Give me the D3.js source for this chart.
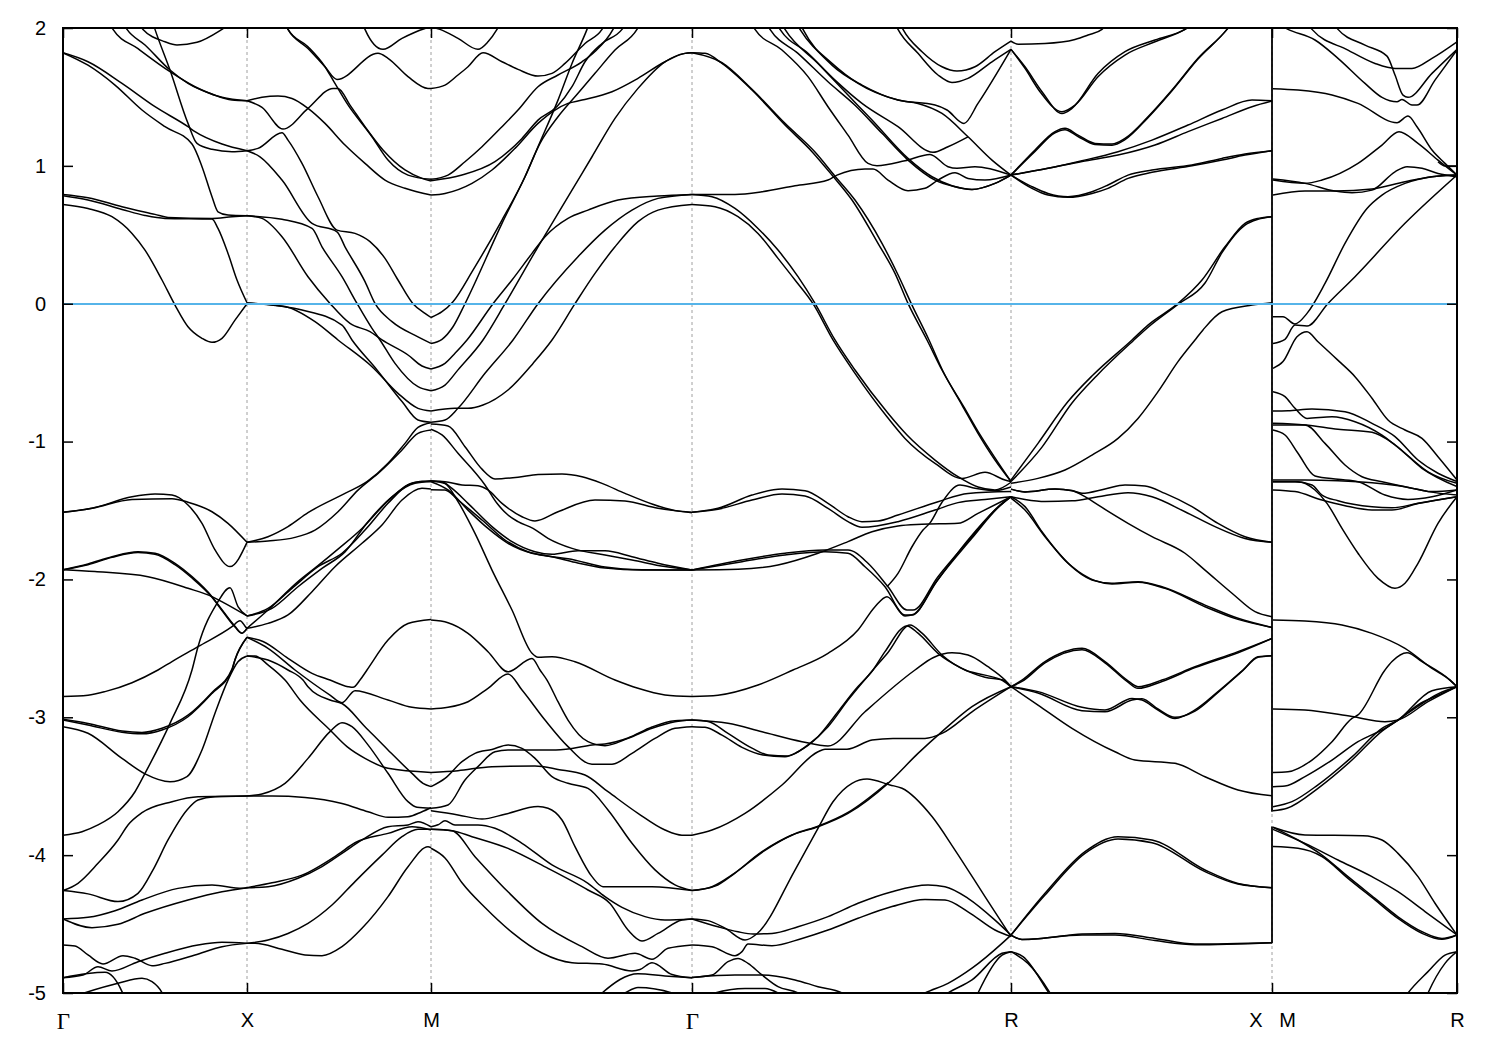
<!DOCTYPE html>
<html><head><meta charset="utf-8">
<script src="https://cdn.jsdelivr.net/npm/d3@7"></script>
<style>html,body{margin:0;padding:0;background:#fff}svg{display:block}</style>
</head><body><svg id="c" width="1500" height="1050"></svg>
<script>
// Tick positions along the k-path (k-point index) and labels
const kTicks = [0,184,368,629,948,1209,1394];
const kLabels = ["Γ","X","M","Γ","R","X\u00a0\u00a0\u00a0M","R"];
const energyTicks = [2,1,0,-1,-2,-3,-4,-5];
const pathBreak = 1209;
const breakSpans = [[2,-3.686],[-3.793,-4.64]];

const bandsGammaX = [
[[0,1.82],[25,1.755],[59,1.598],[92,1.429],[125,1.284],[132,1.248],[159,1.158],[184,1.11]],
[[0,1.82],[25,1.73],[52,1.586],[79,1.405],[102,1.284],[129,1.158],[139,.994],[149,.776],[155,.667],[165,.643],[184,.638]],
[[85,2.15],[92,1.99],[107,1.695],[125,1.308],[134,1.163],[149,1.12],[169,1.103],[184,1.11]],
[[40,2.15],[50,1.99],[75,1.85],[107,1.683],[132,1.574],[159,1.497],[184,1.472]],
[[52,2.15],[64,1.99],[82,1.877],[107,1.695],[125,1.598],[149,1.52],[169,1.477],[184,1.472]],
[[65,2.15],[80,1.99],[102,1.9],[114,1.877],[134,1.896],[159,1.99],[180,2.1]],
[[0,.793],[25,.769],[59,.704],[92,.648],[105,.626],[149,.619],[169,.631],[184,.638]],
[[0,.783],[25,.752],[59,.684],[82,.64],[102,.619],[149,.614],[155,.546],[165,.365],[174,.172],[184,.007]],
[[0,.72],[25,.691],[49,.631],[69,.51],[82,.389],[99,.172],[112,-.01],[125,-.167],[139,-.251],[149,-.28],[159,-.251],[172,-.119],[184,0]],
[[0,-1.513],[29,-1.484],[69,-1.40],[92,-1.38],[109,-1.388],[125,-1.46],[139,-1.593],[152,-1.786],[167,-1.907],[184,-1.731]],
[[0,-1.513],[29,-1.484],[69,-1.42],[109,-1.414],[125,-1.44],[149,-1.509],[165,-1.593],[184,-1.731]],
[[0,-1.93],[25,-1.888],[49,-1.835],[75,-1.799],[92,-1.81],[112,-1.883],[129,-1.98],[149,-2.125],[159,-2.22],[172,-2.34],[179,-2.39],[184,-2.355]],
[[0,-1.93],[25,-1.893],[49,-1.84],[75,-1.805],[92,-1.818],[112,-1.893],[129,-1.99],[149,-2.13],[159,-2.225],[172,-2.345],[179,-2.39],[184,-2.355]],
[[0,-1.93],[32,-1.943],[85,-1.98],[125,-2.064],[149,-2.125],[162,-2.174],[184,-2.265]],
[[0,-3.855],[19,-3.83],[35,-3.781],[55,-3.685],[72,-3.54],[82,-3.407],[107,-3.044],[129,-2.657],[135,-2.488],[154,-2.174],[167,-2.06],[175,-2.197],[184,-2.265]],
[[0,-2.85],[25,-2.84],[42,-2.814],[69,-2.749],[95,-2.657],[109,-2.596],[135,-2.488],[169,-2.343],[177,-2.299],[183,-2.348],[184,-2.355]],
[[0,-3.02],[25,-3.056],[59,-3.109],[79,-3.12],[99,-3.092],[125,-2.996],[149,-2.827],[169,-2.657],[172,-2.585],[184,-2.42]],
[[0,-3.015],[25,-3.045],[59,-3.1],[79,-3.11],[99,-3.08],[125,-2.985],[149,-2.82],[169,-2.65],[172,-2.58],[184,-2.42]],
[[0,-3.068],[25,-3.116],[59,-3.298],[82,-3.41],[107,-3.467],[124,-3.43],[139,-3.237],[152,-2.97],[165,-2.73],[175,-2.597],[184,-2.555]],
[[0,-4.257],[15,-4.204],[35,-4.059],[55,-3.89],[65,-3.781],[79,-3.692],[109,-3.612],[135,-3.576],[184,-3.571]],
[[0,-4.257],[25,-4.281],[55,-4.337],[75,-4.277],[90,-4.107],[105,-3.89],[124,-3.672],[135,-3.6],[152,-3.576],[184,-3.571]],
[[0,-4.463],[25,-4.451],[52,-4.403],[79,-4.325],[115,-4.241],[149,-4.217],[179,-4.241],[184,-4.236]],
[[0,-4.463],[29,-4.526],[55,-4.502],[82,-4.422],[125,-4.325],[159,-4.265],[184,-4.236]],
[[0,-4.651],[12,-4.659],[25,-4.724],[40,-4.789],[60,-4.729],[72,-4.748],[89,-4.802],[102,-4.785],[132,-4.724],[159,-4.664],[184,-4.64]],
[[0,-4.889],[20,-4.87],[35,-4.809],[49,-4.841],[75,-4.773],[102,-4.712],[135,-4.652],[159,-4.632],[184,-4.64]],
[[0,-4.889],[42,-4.85],[59,-4.99],[65,-5.1]],
[[0,-5.05],[22,-4.998],[55,-4.93],[79,-4.893],[89,-4.918],[99,-4.998],[105,-5.1]]
];

const bandsXM = [
[[184,1.472],[199,1.497],[215,1.506],[229,1.489],[245,1.417],[262,1.308],[282,1.151],[302,1.018],[322,.897],[342,.837],[368,.788]],
[[184,1.472],[199,1.424],[220,1.267],[245,1.417],[270,1.562],[275,1.562],[287,1.441],[302,1.284],[320,1.115],[342,.97],[359,.909],[368,.89]],
[[215,2.15],[225,1.99],[245,1.852],[262,1.719],[274,1.627],[315,1.816],[325,1.78],[345,1.647],[365,1.562],[368,1.562]],
[[295,2.15],[302,1.99],[320,1.845],[339,1.925],[362,1.997],[368,2.01]],
[[218,2.15],[225,1.99],[245,1.864],[262,1.719],[270,1.622],[284,1.453],[309,1.211],[325,1.042],[345,.933],[368,.902]],
[[184,1.11],[195,1.127],[219,1.24],[225,1.187],[239,1.018],[255,.776],[274,.534],[292,.51],[307,.45],[322,.329],[335,.172],[350,0],[362,-.07],[368,-.1]],
[[184,1.11],[197,1.066],[219,.897],[249,.583],[274,.522],[282,.413],[302,.16],[312,.002],[329,-.13],[355,-.24],[368,-.288]],
[[184,.638],[219,.612],[249,.546],[259,.413],[279,.196],[294,.002],[309,-.179],[317,-.263],[332,-.433],[355,-.602],[368,-.631]],
[[184,.638],[199,.619],[219,.486],[245,.196],[267,.002],[287,-.143],[307,-.203],[319,-.263],[345,-.372],[359,-.452],[368,-.473]],
[[184,.005],[222,-.02],[252,-.13],[275,-.263],[309,-.457],[335,-.65],[355,-.759],[368,-.778]],
[[184,.005],[239,-.046],[279,-.155],[289,-.263],[314,-.48],[339,-.71],[355,-.843],[368,-.86]],
[[184,-1.731],[205,-1.69],[225,-1.617],[245,-1.516],[282,-1.376],[304,-1.291],[325,-1.158],[342,-1.013],[355,-.897],[368,-.863]],
[[184,-1.731],[205,-1.721],[232,-1.695],[252,-1.642],[275,-1.509],[295,-1.352],[317,-1.219],[339,-1.061],[355,-.94],[368,-.916]],
[[184,-2.265],[205,-2.21],[229,-2.065],[255,-1.908],[279,-1.81],[302,-1.642],[325,-1.448],[345,-1.315],[359,-1.29],[368,-1.29]],
[[184,-2.265],[209,-2.21],[235,-2.053],[259,-1.92],[282,-1.8],[305,-1.581],[329,-1.4],[352,-1.303],[368,-1.29]],
[[184,-2.355],[205,-2.222],[235,-2.016],[255,-1.9],[275,-1.78],[299,-1.63],[325,-1.43],[349,-1.3],[368,-1.285]],
[[184,-2.355],[205,-2.319],[225,-2.258],[249,-2.089],[272,-1.908],[299,-1.738],[319,-1.605],[339,-1.424],[359,-1.339],[368,-1.344]],
[[184,-2.42],[200,-2.45],[225,-2.572],[249,-2.681],[267,-2.73],[285,-2.778],[290,-2.783],[297,-2.73],[304,-2.657],[325,-2.44],[345,-2.32],[368,-2.29]],
[[184,-2.42],[205,-2.5],[232,-2.657],[267,-2.839],[279,-2.894],[292,-2.807],[325,-2.875],[349,-2.928],[368,-2.94]],
[[184,-2.555],[192,-2.555],[205,-2.62],[222,-2.73],[237,-2.875],[267,-3.092],[284,-3.213],[302,-3.298],[325,-3.37],[368,-3.4]],
[[184,-2.555],[205,-2.585],[225,-2.657],[240,-2.73],[245,-2.778],[267,-2.875],[279,-2.9],[302,-3.068],[325,-3.237],[349,-3.407],[360,-3.479],[368,-3.503]],
[[184,-3.571],[199,-3.556],[222,-3.479],[245,-3.298],[267,-3.104],[279,-3.039],[289,-3.068],[305,-3.2],[325,-3.406],[345,-3.612],[354,-3.653],[368,-3.66]],
[[184,-3.571],[209,-3.571],[242,-3.581],[279,-3.625],[305,-3.685],[325,-3.726],[345,-3.721],[359,-3.685],[368,-3.656]],
[[184,-4.236],[205,-4.229],[235,-4.168],[259,-4.083],[279,-3.987],[299,-3.89],[325,-3.794],[345,-3.781],[355,-3.757],[368,-3.794]],
[[184,-4.236],[209,-4.2],[239,-4.145],[275,-3.995],[292,-3.91],[325,-3.842],[349,-3.794],[368,-3.818]],
[[184,-4.64],[192,-4.64],[219,-4.683],[242,-4.724],[259,-4.729],[279,-4.664],[299,-4.531],[325,-4.301],[345,-4.084],[365,-3.94],[368,-3.946]],
[[184,-4.64],[205,-4.616],[225,-4.568],[245,-4.495],[269,-4.362],[292,-4.192],[319,-4.0],[339,-3.866],[355,-3.813],[368,-3.813]]
];

const bandsMGamma = [
[[368,2.01],[377,1.99],[395,1.925],[415,1.845],[425,1.9],[434,1.99],[445,2.15]],
[[368,1.562],[382,1.586],[395,1.659],[405,1.719],[420,1.82],[439,1.755],[455,1.70],[475,1.651],[489,1.671],[502,1.743],[522,1.888],[539,1.99],[550,2.15]],
[[368,.902],[385,.933],[402,1.03],[419,1.139],[439,1.284],[455,1.405],[475,1.574],[495,1.659],[519,1.755],[532,1.83],[550,1.99],[560,2.15]],
[[368,.892],[399,.933],[432,1.03],[459,1.199],[475,1.332],[494,1.43],[509,1.574],[522,1.755],[539,1.888],[559,1.99],[572,2.15]],
[[368,.788],[382,.8],[409,.873],[429,.97],[452,1.127],[475,1.308],[492,1.405],[505,1.453],[519,1.477],[549,1.538],[575,1.635],[602,1.755],[622,1.816],[629,1.82]],
[[368,-.1],[379,-.058],[390,.015],[410,.244],[439,.607],[462,.921],[475,1.139],[495,1.477],[509,1.743],[524,1.99],[532,2.15]],
[[368,-.288],[379,-.258],[390,-.167],[402,0],[439,.583],[462,.921],[477,1.163],[495,1.356],[515,1.526],[532,1.671],[552,1.84],[574,1.99],[585,2.15]],
[[368,-.473],[382,-.433],[392,-.36],[404,-.263],[430,0],[449,.172],[469,.365],[482,.486],[505,.619],[525,.679],[555,.752],[595,.781],[629,.793]],
[[368,-.631],[382,-.59],[395,-.48],[420,-.263],[442,0],[475,.413],[509,.824],[529,1.066],[552,1.344],[575,1.562],[602,1.755],[622,1.816],[629,1.82]],
[[368,-.86],[382,-.844],[395,-.759],[422,-.505],[450,-.263],[475,0],[515,.341],[542,.534],[569,.679],[595,.764],[629,.793]],
[[368,-.778],[392,-.759],[405,-.759],[420,-.735],[445,-.626],[470,-.433],[489,-.263],[512,0],[532,.22],[552,.413],[575,.595],[595,.679],[629,.72]],
[[368,-.911],[379,-.952],[395,-1.085],[422,-1.315],[434,-1.448],[445,-1.533],[455,-1.581],[470,-1.63],[485,-1.702],[509,-1.775],[542,-1.823],[569,-1.859],[602,-1.907],[629,-1.932]],
[[368,-.873],[385,-.887],[402,-1.037],[419,-1.2],[432,-1.271],[455,-1.259],[475,-1.238],[499,-1.235],[519,-1.255],[539,-1.303],[562,-1.376],[589,-1.453],[612,-1.501],[629,-1.516]],
[[368,-1.286],[382,-1.291],[399,-1.315],[415,-1.32],[425,-1.351],[439,-1.448],[459,-1.545],[472,-1.576],[495,-1.509],[532,-1.424],[562,-1.431],[595,-1.484],[629,-1.513]],
[[368,-1.286],[379,-1.291],[389,-1.34],[405,-1.448],[429,-1.617],[449,-1.726],[472,-1.799],[489,-1.818],[515,-1.792],[542,-1.792],[569,-1.835],[595,-1.883],[629,-1.932]],
[[368,-1.291],[385,-1.351],[405,-1.497],[425,-1.63],[445,-1.738],[469,-1.81],[489,-1.835],[512,-1.876],[542,-1.917],[579,-1.932],[629,-1.932]],
[[368,-1.349],[382,-1.351],[395,-1.424],[419,-1.569],[442,-1.714],[465,-1.799],[485,-1.83],[505,-1.85],[542,-1.91],[579,-1.93],[629,-1.932]],
[[368,-1.286],[382,-1.305],[395,-1.436],[412,-1.666],[429,-1.932],[449,-2.222],[469,-2.536],[475,-2.565],[489,-2.56],[512,-2.597],[552,-2.73],[575,-2.79],[602,-2.838],[629,-2.85]],
[[368,-2.295],[385,-2.314],[405,-2.391],[425,-2.524],[445,-2.67],[469,-2.573],[477,-2.657],[484,-2.73],[495,-2.887],[505,-3.02],[525,-3.177],[542,-3.206],[565,-3.153],[589,-3.08],[612,-3.032],[629,-3.02]],
[[368,-2.94],[385,-2.928],[405,-2.887],[425,-2.79],[445,-2.686],[459,-2.802],[482,-3.02],[505,-3.213],[529,-3.34],[549,-3.34],[569,-3.262],[592,-3.153],[612,-3.08],[629,-3.068]],
[[368,-3.4],[395,-3.387],[429,-3.358],[472,-3.354],[495,-3.378],[522,-3.419],[545,-3.54],[575,-3.697],[602,-3.818],[619,-3.855],[629,-3.855]],
[[368,-3.503],[382,-3.443],[399,-3.322],[412,-3.262],[429,-3.233],[445,-3.201],[459,-3.225],[472,-3.298],[489,-3.43],[505,-3.479],[525,-3.516],[545,-3.672],[569,-3.914],[592,-4.107],[612,-4.216],[629,-4.257]],
[[368,-3.66],[385,-3.636],[402,-3.455],[415,-3.358],[432,-3.25],[445,-3.238],[462,-3.238],[489,-3.238],[509,-3.226],[529,-3.201],[542,-3.194],[565,-3.15],[589,-3.07],[612,-3.025],[629,-3.02]],
[[368,-3.678],[395,-3.708],[419,-3.738],[442,-3.703],[475,-3.648],[485,-3.66],[499,-3.745],[512,-3.938],[529,-4.156],[540,-4.229],[589,-4.229],[629,-4.257]],
[[368,-3.794],[375,-3.78],[382,-3.751],[392,-3.781],[415,-3.781],[432,-3.805],[459,-3.914],[489,-4.071],[525,-4.204],[542,-4.301],[559,-4.379],[582,-4.446],[602,-4.47],[629,-4.463]],
[[368,-3.813],[389,-3.823],[409,-3.866],[445,-3.951],[485,-4.096],[525,-4.253],[547,-4.35],[565,-4.543],[579,-4.623],[595,-4.568],[619,-4.47],[629,-4.463]],
[[368,-3.813],[389,-3.823],[412,-4.011],[445,-4.266],[479,-4.495],[519,-4.664],[545,-4.748],[572,-4.712],[589,-4.755],[605,-4.676],[629,-4.651]],
[[368,-3.95],[382,-4.02],[399,-4.2],[422,-4.38],[449,-4.56],[479,-4.71],[509,-4.78],[539,-4.79],[569,-4.84],[577,-4.83],[589,-4.78],[609,-4.866],[629,-4.89]],
[[525,-5.1],[539,-5.0],[575,-4.86],[602,-4.876],[629,-4.89]],
[[550,-5.05],[562,-5.0],[575,-4.96],[609,-5.0],[620,-5.05]]
];

const bandsGammaR = [
[[629,1.82],[642,1.816],[659,1.743],[689,1.55],[722,1.296],[749,1.103],[769,.933],[789,.752],[815,.438],[832,.22],[845,.002],[864,-.263],[879,-.481],[899,-.735],[915,-.94],[932,-1.134],[948,-1.29]],
[[629,1.82],[659,1.748],[689,1.555],[722,1.308],[752,1.1],[772,.925],[792,.752],[819,.438],[835,.21],[849,-.01],[866,-.263],[880,-.49],[901,-.75],[917,-.95],[934,-1.14],[948,-1.29]],
[[629,.793],[649,.776],[672,.691],[695,.546],[715,.389],[735,.196],[752,.002],[772,-.263],[792,-.481],[825,-.795],[844,-.953],[872,-1.134],[895,-1.255],[915,-1.33],[932,-1.351],[948,-1.295]],
[[629,.72],[652,.704],[675,.631],[695,.51],[715,.329],[732,.172],[750,0],[770,-.263],[792,-.505],[824,-.82],[842,-.977],[872,-1.158],[899,-1.267],[922,-1.223],[942,-1.279],[948,-1.29]],
[[629,.793],[672,.793],[699,.812],[732,.856],[765,.897],[774,.933],[802,.977],[810,.977],[825,.897],[845,.82],[862,.837],[875,.897],[892,.95],[905,.909],[922,.897],[948,.933]],
[[680,2.15],[692,1.99],[719,1.84],[745,1.647],[765,1.429],[785,1.223],[805,1.018],[814,1.001],[842,1.037],[867,1.083],[885,.994],[894,.982],[912,.994],[948,.933]],
[[695,2.15],[707,1.99],[735,1.816],[765,1.61],[792,1.44],[819,1.236],[845,1.042],[872,.897],[892,.849],[909,.829],[932,.873],[948,.933]],
[[705,2.15],[717,1.99],[745,1.816],[772,1.622],[799,1.453],[835,1.284],[870,1.098],[885,1.139],[905,1.211]],
[[730,2.15],[740,1.99],[769,1.731],[799,1.586],[835,1.477],[855,1.453],[879,1.38],[905,1.211],[929,1.042],[948,.933]],
[[710,2.15],[722,1.99],[755,1.743],[785,1.514],[809,1.332],[845,1.054],[869,.921],[889,.856],[909,.829],[932,.873],[948,.933]],
[[725,2.15],[737,1.99],[769,1.743],[795,1.598],[835,1.477],[872,1.441],[884,1.405],[901,1.308],[915,1.453],[948,1.845]],
[[825,2.15],[835,1.99],[855,1.816],[875,1.659],[889,1.605],[905,1.635],[929,1.755],[948,1.845]],
[[830,2.15],[840,1.99],[859,1.828],[879,1.719],[894,1.688],[912,1.719],[932,1.828],[948,1.905]],
[[629,-1.513],[655,-1.484],[689,-1.388],[719,-1.344],[742,-1.356],[765,-1.448],[785,-1.545],[799,-1.581],[815,-1.576],[835,-1.533],[875,-1.436],[905,-1.376],[948,-1.363]],
[[629,-1.513],[655,-1.491],[689,-1.424],[719,-1.38],[742,-1.395],[765,-1.485],[785,-1.581],[799,-1.622],[835,-1.581],[872,-1.497],[895,-1.443],[922,-1.42],[948,-1.4]],
[[629,-1.932],[679,-1.859],[722,-1.81],[762,-1.787],[785,-1.787],[805,-1.883],[825,-2.053],[844,-2.222],[850,-2.222],[875,-1.98],[909,-1.69],[935,-1.473],[948,-1.4]],
[[629,-1.932],[679,-1.871],[722,-1.823],[762,-1.799],[785,-1.81],[802,-1.908],[822,-2.053],[842,-2.258],[849,-2.258],[872,-2.03],[905,-1.714],[932,-1.497],[948,-1.4]],
[[629,-1.932],[675,-1.927],[715,-1.895],[755,-1.81],[785,-1.726],[809,-1.654],[835,-1.612],[859,-1.6],[895,-1.593],[915,-1.521],[948,-1.4]],
[[824,-2.053],[835,-1.956],[849,-1.763],[860,-1.642],[867,-1.59],[879,-1.44],[897,-1.315],[912,-1.339],[932,-1.356],[948,-1.33]],
[[629,-2.85],[655,-2.84],[695,-2.766],[730,-2.657],[765,-2.536],[795,-2.367],[812,-2.198],[824,-2.125],[842,-2.265],[850,-2.255],[875,-2.0],[909,-1.7],[935,-1.48],[948,-1.4]],
[[629,-3.855],[649,-3.818],[682,-3.697],[719,-3.491],[755,-3.25],[762,-3.231],[784,-3.231],[809,-3.165],[830,-3.153],[862,-3.153],[879,-3.117],[909,-2.96],[948,-2.778]],
[[629,-3.02],[665,-3.044],[699,-3.105],[739,-3.177],[765,-3.208],[802,-2.96],[852,-2.657],[870,-2.568],[889,-2.532],[905,-2.548],[925,-2.633],[942,-2.73],[948,-2.778]],
[[629,-3.068],[642,-3.073],[659,-3.129],[679,-3.218],[700,-3.273],[722,-3.286],[735,-3.25],[755,-3.141],[775,-2.96],[792,-2.802],[810,-2.657],[822,-2.524],[844,-2.337],[855,-2.39],[875,-2.536],[899,-2.645],[922,-2.71],[940,-2.73],[948,-2.778]],
[[629,-3.02],[645,-3.03],[665,-3.117],[689,-3.224],[705,-3.273],[725,-3.28],[745,-3.2],[765,-3.068],[785,-2.875],[810,-2.657],[825,-2.53],[847,-2.33],[859,-2.39],[879,-2.548],[902,-2.657],[922,-2.694],[940,-2.735],[948,-2.778]],
[[629,-4.257],[649,-4.229],[669,-4.144],[699,-3.975],[729,-3.854],[755,-3.794],[785,-3.697],[825,-3.479],[855,-3.262],[879,-3.104],[909,-2.923],[948,-2.778]],
[[629,-4.257],[652,-4.225],[672,-4.13],[702,-3.965],[732,-3.845],[755,-3.79],[785,-3.69],[825,-3.473]],
[[629,-4.463],[645,-4.475],[662,-4.53],[682,-4.616],[694,-4.57],[732,-4.108],[755,-3.805],[770,-3.613],[789,-3.479],[804,-3.448],[827,-3.491],[839,-3.515],[869,-3.72],[892,-3.963],[922,-4.301],[948,-4.591]],
[[629,-4.463],[655,-4.52],[675,-4.556],[690,-4.572],[709,-4.568],[735,-4.519],[765,-4.446],[795,-4.349],[829,-4.265],[865,-4.217],[882,-4.229],[905,-4.313],[932,-4.471],[948,-4.58]],
[[629,-4.651],[649,-4.664],[672,-4.729],[679,-4.7],[685,-4.645],[709,-4.657],[739,-4.604],[765,-4.543],[795,-4.458],[829,-4.373],[862,-4.321],[882,-4.326],[905,-4.411],[932,-4.543],[948,-4.591]],
[[629,-4.887],[649,-4.87],[665,-4.773],[675,-4.749],[685,-4.785],[699,-4.869],[715,-4.954],[735,-5.0],[745,-5.05]],
[[629,-4.887],[672,-4.87],[699,-4.87],[732,-4.905],[755,-4.954],[779,-5.0],[790,-5.05]],
[[640,-5.05],[652,-5],[682,-4.967],[702,-4.967],[715,-5],[725,-5.05]],
[[850,-5.05],[862,-5],[885,-4.93],[909,-4.82],[939,-4.64],[948,-4.58]],
[[875,-5.05],[885,-5],[909,-4.905],[939,-4.712],[948,-4.7]],
[[910,-5.08],[915,-5],[939,-4.725],[948,-4.7]]
];

const bandsRX = [
[[948,1.905],[955,1.883],[982,1.888],[1012,1.917],[1025,1.949],[1039,1.99],[1055,2.15]],
[[948,1.845],[962,1.719],[979,1.538],[999,1.38],[1009,1.417],[1035,1.67],[1062,1.828],[1092,1.913],[1122,1.99],[1150,2.15]],
[[948,1.845],[962,1.707],[977,1.538],[999,1.393],[1012,1.441],[1035,1.647],[1062,1.804],[1092,1.9],[1122,1.99],[1150,2.15]],
[[948,.933],[972,1.115],[992,1.248],[1002,1.272],[1015,1.223],[1032,1.163],[1049,1.158],[1062,1.199],[1085,1.356],[1109,1.55],[1135,1.78],[1164,1.99],[1180,2.15]],
[[948,.933],[972,1.105],[992,1.24],[1002,1.262],[1015,1.213],[1032,1.155],[1049,1.15],[1062,1.19],[1085,1.35],[1109,1.545],[1135,1.775],[1164,1.99],[1180,2.15]],
[[948,.933],[985,.982],[1019,1.037],[1055,1.103],[1089,1.187],[1125,1.296],[1159,1.405],[1189,1.477],[1209,1.472]],
[[948,.933],[985,.982],[1019,1.032],[1055,1.078],[1092,1.151],[1125,1.248],[1159,1.344],[1189,1.429],[1209,1.47]],
[[948,.933],[969,.849],[985,.8],[1005,.776],[1029,.812],[1045,.861],[1065,.933],[1089,.97],[1129,1.006],[1159,1.054],[1182,1.086],[1209,1.11]],
[[948,.933],[969,.837],[985,.788],[1005,.772],[1029,.8],[1045,.837],[1065,.909],[1089,.953],[1129,1.0],[1159,1.042],[1182,1.078],[1209,1.11]],
[[948,-1.279],[975,-1.013],[1005,-.71],[1030,-.517],[1069,-.263],[1085,-.155],[1115,.002],[1139,.172],[1162,.413],[1182,.583],[1195,.619],[1209,.631]],
[[948,-1.29],[979,-1.04],[1009,-.72],[1034,-.52],[1070,-.27],[1086,-.165],[1115,-.005],[1142,.15],[1159,.37],[1182,.57],[1195,.612],[1209,.631]],
[[948,-1.303],[975,-1.267],[1002,-1.206],[1029,-1.098],[1055,-.977],[1075,-.832],[1095,-.638],[1115,-.42],[1132,-.263],[1140,-.19],[1159,-.058],[1189,-.01],[1209,.007]],
[[948,-1.345],[962,-1.365],[992,-1.344],[1009,-1.355],[1019,-1.375],[1042,-1.344],[1062,-1.315],[1082,-1.322],[1102,-1.376],[1129,-1.472],[1155,-1.593],[1182,-1.69],[1209,-1.731]],
[[948,-1.4],[962,-1.42],[982,-1.435],[1009,-1.43],[1035,-1.4],[1065,-1.371],[1089,-1.4],[1122,-1.509],[1152,-1.617],[1182,-1.703],[1209,-1.731]],
[[948,-1.345],[962,-1.365],[992,-1.344],[1009,-1.356],[1022,-1.4],[1035,-1.46],[1065,-1.593],[1089,-1.69],[1122,-1.81],[1142,-1.932],[1169,-2.1],[1192,-2.234],[1209,-2.27]],
[[948,-1.4],[962,-1.472],[979,-1.654],[1005,-1.883],[1029,-2.004],[1049,-2.028],[1075,-2.016],[1099,-2.053],[1142,-2.186],[1175,-2.282],[1209,-2.348]],
[[948,-1.41],[962,-1.497],[982,-1.69],[1009,-1.907],[1032,-2.009],[1049,-2.033],[1075,-2.02],[1102,-2.065],[1142,-2.198],[1175,-2.29],[1209,-2.348]],
[[948,-2.778],[959,-2.73],[982,-2.596],[1019,-2.5],[1042,-2.596],[1064,-2.73],[1075,-2.778],[1099,-2.73],[1132,-2.633],[1175,-2.524],[1209,-2.428]],
[[948,-2.778],[959,-2.74],[982,-2.605],[1019,-2.51],[1042,-2.605],[1064,-2.74],[1075,-2.79],[1099,-2.74],[1132,-2.64],[1175,-2.532],[1209,-2.428]],
[[948,-2.778],[975,-2.814],[1019,-2.928],[1042,-2.947],[1069,-2.863],[1079,-2.875],[1095,-2.947],[1112,-3.008],[1132,-2.947],[1155,-2.814],[1180,-2.657],[1195,-2.56],[1209,-2.553]],
[[948,-2.778],[975,-2.824],[1019,-2.952],[1042,-2.96],[1069,-2.875],[1079,-2.865],[1095,-2.94],[1112,-3.0],[1132,-2.955],[1155,-2.82],[1180,-2.66],[1195,-2.565],[1209,-2.553]],
[[948,-2.778],[975,-2.911],[1009,-3.08],[1052,-3.25],[1072,-3.31],[1112,-3.334],[1142,-3.431],[1175,-3.527],[1209,-3.57]],
[[948,-4.58],[982,-4.277],[1022,-3.975],[1055,-3.866],[1089,-3.89],[1142,-4.108],[1175,-4.205],[1209,-4.236]],
[[948,-4.58],[982,-4.29],[1022,-3.987],[1055,-3.883],[1089,-3.91],[1142,-4.12],[1175,-4.21],[1209,-4.236]],
[[948,-4.58],[959,-4.612],[979,-4.604],[1019,-4.572],[1052,-4.568],[1092,-4.604],[1132,-4.645],[1209,-4.635]],
[[948,-4.58],[959,-4.612],[1019,-4.58],[1052,-4.579],[1092,-4.62],[1132,-4.65],[1209,-4.635]],
[[948,-4.7],[960,-4.736],[985,-4.99],[995,-5.1]],
[[948,-4.7],[965,-4.785],[987,-5],[995,-5.1]]
];

const bandsMR = [
[[1210,2.05],[1225,1.99],[1252,1.913],[1275,1.78],[1302,1.598],[1319,1.497],[1334,1.465],[1339,1.482],[1349,1.441],[1354,1.441],[1372,1.622],[1394,1.84]],
[[1235,2.15],[1249,1.99],[1285,1.84],[1312,1.743],[1332,1.707],[1349,1.707],[1369,1.78],[1394,1.9]],
[[1262,2.15],[1275,1.99],[1302,1.876],[1324,1.796],[1332,1.659],[1340,1.513],[1345,1.497],[1369,1.671],[1394,1.845]],
[[1210,1.56],[1235,1.55],[1269,1.514],[1295,1.453],[1334,1.313],[1345,1.361],[1354,1.284],[1369,1.115],[1382,1.018],[1394,.933]],
[[1210,.897],[1242,.873],[1259,.897],[1295,1.018],[1319,1.151],[1336,1.248],[1355,1.163],[1375,1.042],[1394,.933]],
[[1210,.904],[1242,.873],[1272,.817],[1289,.805],[1309,.824],[1332,.957],[1344,.994],[1359,.982],[1375,.945],[1394,.921]],
[[1210,.788],[1242,.817],[1272,.817],[1309,.832],[1342,.885],[1369,.921],[1394,.933]],
[[1210,-.288],[1222,-.258],[1232,-.155],[1244,-.162],[1265,.002],[1292,.196],[1342,.583],[1394,.933]],
[[1210,-.094],[1220,-.094],[1232,-.147],[1244,-.07],[1262,.147],[1282,.438],[1304,.691],[1319,.788],[1342,.873],[1369,.921],[1394,.933]],
[[1375,1.03],[1382,.999],[1394,.999]],
[[1210,-.469],[1220,-.42],[1234,-.239],[1244,-.203],[1255,-.276],[1274,-.404],[1292,-.529],[1309,-.686],[1325,-.844],[1342,-.916],[1359,-.977],[1375,-1.11],[1394,-1.279]],
[[1210,-.638],[1222,-.674],[1232,-.759],[1244,-.832],[1269,-.82],[1292,-.856],[1319,-.953],[1342,-1.085],[1365,-1.219],[1394,-1.303]],
[[1210,-.778],[1225,-.776],[1249,-.764],[1282,-.783],[1309,-.868],[1332,-.964],[1355,-1.134],[1375,-1.23],[1394,-1.29]],
[[1210,-.868],[1242,-.88],[1275,-.911],[1309,-.933],[1332,-1.023],[1359,-1.194],[1394,-1.327]],
[[1210,-.88],[1242,-.88],[1262,-1.013],[1282,-1.17],[1299,-1.255],[1319,-1.291],[1342,-1.327],[1369,-1.363],[1394,-1.351]],
[[1210,-.916],[1222,-.952],[1235,-1.085],[1252,-1.25],[1275,-1.274],[1295,-1.291],[1322,-1.388],[1345,-1.42],[1369,-1.4],[1394,-1.351]],
[[1210,-1.279],[1242,-1.279],[1275,-1.284],[1309,-1.298],[1342,-1.327],[1365,-1.363],[1394,-1.388]],
[[1210,-1.291],[1232,-1.291],[1249,-1.315],[1259,-1.388],[1275,-1.429],[1309,-1.473],[1329,-1.48],[1355,-1.448],[1394,-1.4]],
[[1210,-1.351],[1232,-1.363],[1259,-1.424],[1282,-1.465],[1309,-1.496],[1329,-1.496],[1355,-1.45],[1394,-1.4]],
[[1210,-1.291],[1235,-1.291],[1252,-1.351],[1264,-1.448],[1279,-1.63],[1295,-1.81],[1315,-1.992],[1332,-2.064],[1342,-2.028],[1355,-1.883],[1375,-1.593],[1394,-1.4]],
[[1210,-2.295],[1242,-2.302],[1279,-2.331],[1309,-2.391],[1342,-2.5],[1369,-2.645],[1387,-2.73],[1394,-2.778]],
[[1210,-2.94],[1242,-2.947],[1289,-2.995],[1322,-3.032],[1335,-3.02],[1365,-2.887],[1394,-2.778]],
[[1210,-3.4],[1225,-3.395],[1249,-3.31],[1269,-3.177],[1289,-3.008],[1295,-2.983],[1322,-2.657],[1329,-2.596],[1344,-2.532],[1359,-2.597],[1387,-2.73],[1394,-2.778]],
[[1210,-3.503],[1222,-3.499],[1242,-3.43],[1269,-3.31],[1295,-3.177],[1322,-3.08],[1335,-3.02],[1369,-2.807],[1394,-2.778]],
[[1210,-3.649],[1229,-3.612],[1255,-3.49],[1289,-3.287],[1319,-3.08],[1335,-3.02],[1355,-2.91],[1375,-2.84],[1394,-2.778]],
[[1210,-3.678],[1224,-3.66],[1255,-3.515],[1289,-3.31],[1319,-3.1],[1335,-3.02],[1359,-2.9],[1375,-2.83],[1394,-2.778]],
[[1210,-3.798],[1242,-3.854],[1300,-3.859],[1319,-3.89],[1335,-3.987],[1355,-4.156],[1372,-4.349],[1394,-4.579]],
[[1210,-3.813],[1242,-3.915],[1275,-4.035],[1309,-4.156],[1335,-4.265],[1362,-4.409],[1394,-4.579]],
[[1210,-3.938],[1235,-3.95],[1259,-4.01],[1285,-4.168],[1312,-4.325],[1335,-4.459],[1359,-4.567],[1379,-4.611],[1394,-4.579]],
[[1210,-3.798],[1235,-3.89],[1259,-3.999],[1285,-4.156],[1312,-4.313],[1335,-4.447],[1359,-4.555],[1379,-4.604],[1394,-4.579]],
[[1340,-5.05],[1345,-5],[1365,-4.845],[1382,-4.725],[1394,-4.7]],
[[1362,-5.05],[1365,-5],[1382,-4.785],[1394,-4.7]]
];

const allBands = [bandsGammaX, bandsXM, bandsMGamma, bandsGammaR, bandsRX, bandsMR];

const plot = {l:63, r:1457, t:28, b:993};
const x = d3.scaleLinear().domain([0,1394]).range([plot.l,plot.r]);
const y = d3.scaleLinear().domain([-5,2]).range([plot.b,plot.t]);
const svg = d3.select("#c");
const FONT = "'Liberation Sans', Arial, sans-serif";

svg.append("defs").append("clipPath").attr("id","plotclip").append("rect")
  .attr("x",plot.l).attr("y",plot.t).attr("width",plot.r-plot.l).attr("height",plot.b-plot.t);

// dashed vertical guides at high-symmetry points
svg.append("g").selectAll("line").data(kTicks.slice(1,-1)).join("line")
  .attr("x1",d=>x(d)).attr("x2",d=>x(d)).attr("y1",plot.t).attr("y2",plot.b)
  .attr("stroke","#a0a0a0").attr("stroke-width",1).attr("stroke-dasharray","3,3");

const line = d3.line().x(d=>x(d[0])).y(d=>y(d[1])).curve(d3.curveMonotoneX);
const g = svg.append("g").attr("clip-path","url(#plotclip)");
allBands.forEach(set=>{
  g.append("g").selectAll("path").data(set).join("path")
    .attr("d",line).attr("fill","none").attr("stroke","#000").attr("stroke-width",1.5)
    .attr("stroke-linejoin","round");
});
// bands jump from X back to M at the path break
g.append("g").selectAll("line").data(breakSpans).join("line")
  .attr("x1",x(pathBreak)).attr("x2",x(pathBreak))
  .attr("y1",d=>y(d[0])).attr("y2",d=>y(d[1]))
  .attr("stroke","#000").attr("stroke-width",1.8);

// Fermi level
svg.append("line").attr("x1",plot.l).attr("x2",plot.r).attr("y1",y(0)).attr("y2",y(0))
  .attr("stroke","#56b4e9").attr("stroke-width",2).attr("shape-rendering","crispEdges");

function style(ax){
  ax.select(".domain").remove();
  ax.selectAll(".tick line").attr("stroke","#000").attr("stroke-width",1.5);
  ax.selectAll("text").attr("fill","#000").style("font-family",FONT).style("font-size","20px");
}
const size = 10;
const bottom = svg.append("g").attr("transform",`translate(0,${plot.b})`)
  .call(d3.axisBottom(x).tickValues(kTicks).tickFormat((d,i)=>kLabels[i]).tickSizeInner(-size).tickSizeOuter(0).tickPadding(20));
style(bottom);
bottom.selectAll("text").filter(d=>d===0||d===629).style("font-family","'Liberation Serif',serif").style("font-size","23px");
const top_ = svg.append("g").attr("transform",`translate(0,${plot.t})`)
  .call(d3.axisTop(x).tickValues(kTicks).tickFormat("").tickSizeInner(-size).tickSizeOuter(0));
style(top_);
const left = svg.append("g").attr("transform",`translate(${plot.l},0)`)
  .call(d3.axisLeft(y).tickValues(energyTicks).tickFormat(d=>String(d)).tickSizeInner(-size).tickSizeOuter(0).tickPadding(17));
style(left);
left.selectAll("text").text(d=>String(d));
const right = svg.append("g").attr("transform",`translate(${plot.r},0)`)
  .call(d3.axisRight(y).tickValues(energyTicks).tickFormat("").tickSizeInner(-size).tickSizeOuter(0));
style(right);

// frame
svg.append("rect").attr("x",plot.l).attr("y",plot.t).attr("width",plot.r-plot.l).attr("height",plot.b-plot.t)
  .attr("fill","none").attr("stroke","#000").attr("stroke-width",2);
</script></body></html>
